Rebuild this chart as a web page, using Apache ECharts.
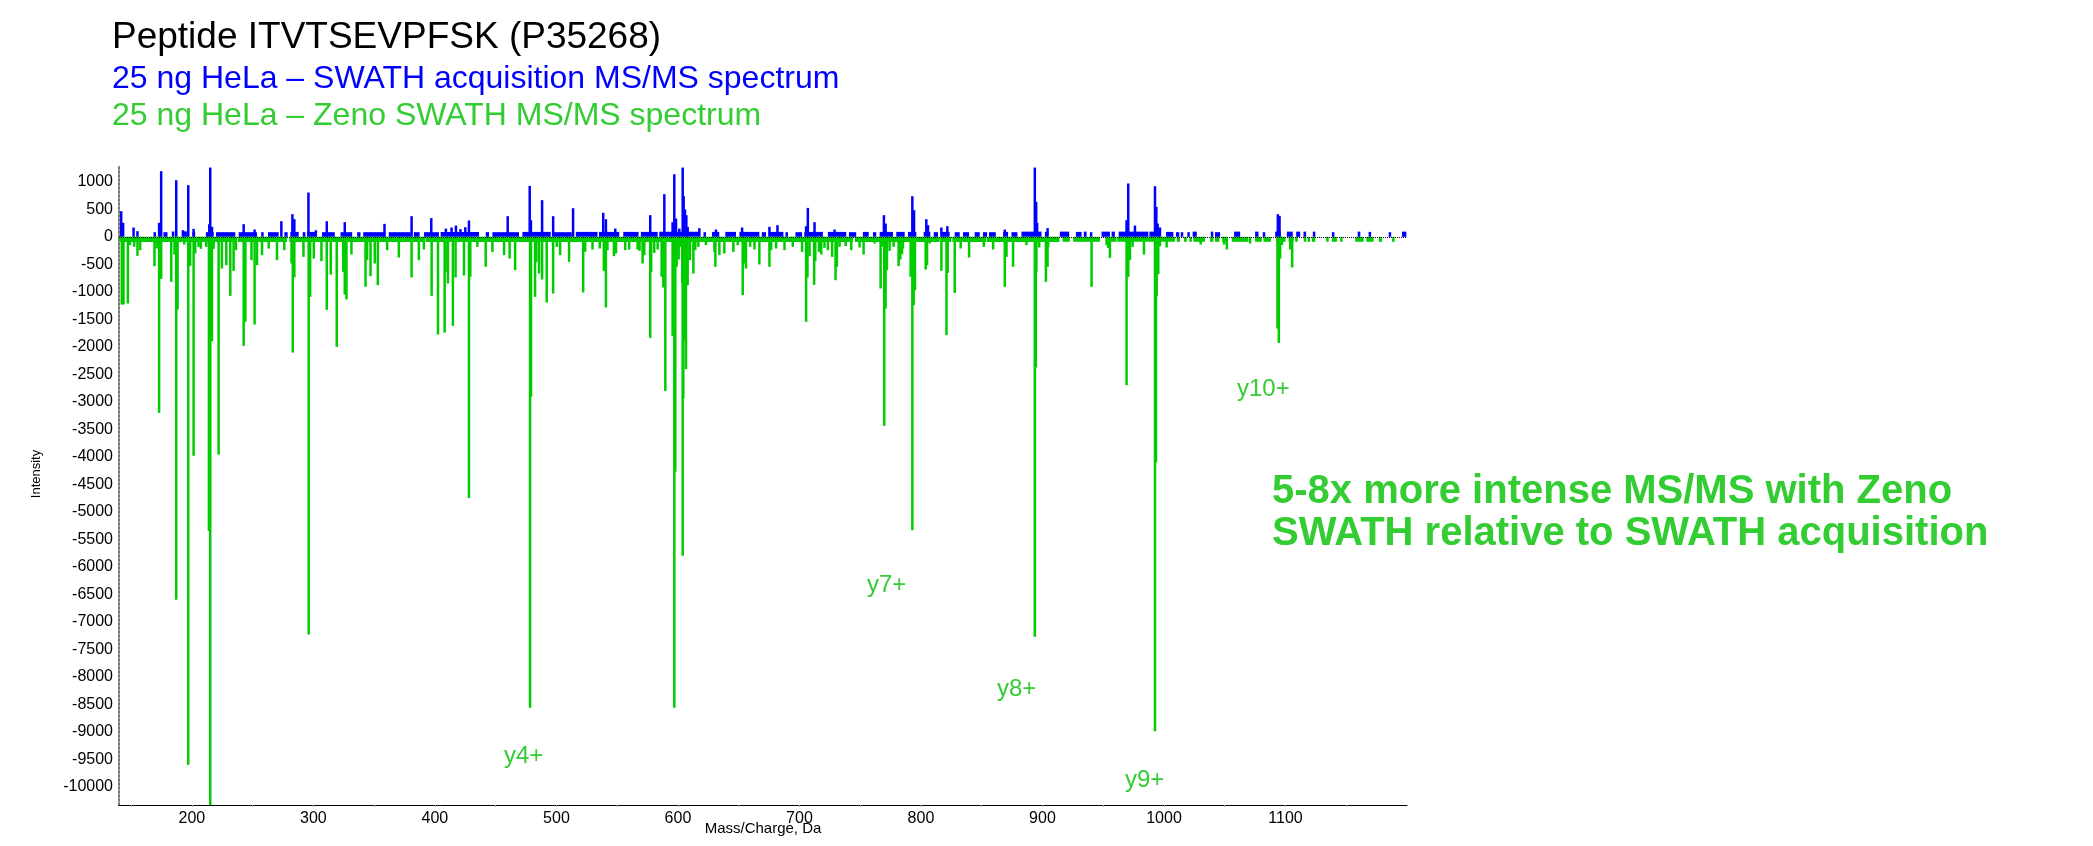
<!DOCTYPE html>
<html>

<head>
    <meta charset="utf-8">
    <title>Peptide ITVTSEVPFSK</title>
    <script src="https://cdn.jsdelivr.net/npm/echarts@6/dist/echarts.min.js"></script>
    <style>
        html, body { margin: 0; padding: 0; background: #fff; }
    </style>
</head>

<body>
    <main id="main" style="width: 2093px; height: 846px;"></main>

    <script>
        // tick values of both axes
        var X_LABELS = [200, 300, 400, 500, 600, 700, 800, 900, 1000, 1100];
        var X_TICKS = [150, 200, 250, 300, 350, 400, 450, 500, 550, 600, 650, 700, 750, 800, 850, 900, 950, 1000, 1050, 1100, 1150];
        var Y_LABELS = [-10000, -9500, -9000, -8500, -8000, -7500, -7000, -6500, -6000, -5500, -5000, -4500, -4000,
            -3500, -3000, -2500, -2000, -1500, -1000, -500, 0, 500, 1000];

        // SWATH acquisition spectrum: [m/z, intensity]
        var swathPeaks = [
            [141.8, 467], [143.4, 255], [152, 170], [155.2, 103], [173, 255], [174.7, 1194], [187.1, 1030], [192.6, 121],
            [197, 940], [201.4, 145], [214.3, 230], [215.1, 1260], [216.5, 182], [242.6, 230], [251.6, 133], [273.6, 285],
            [282.7, 412], [284.3, 321], [295.9, 806], [302, 120], [311, 285], [325.8, 267], [358.5, 236], [380.8, 376],
            [397, 340], [409, 150], [413.7, 170], [417.3, 206], [421, 140], [425, 175], [428, 297], [459.9, 376],
            [478, 927], [479, 303], [488.2, 667], [497.3, 376], [513.7, 521],
            [538.5, 436], [540.7, 321], [548.4, 150], [577.2, 394], [588.8, 776], [595.6, 267], [597, 1139], [598.4, 333],
            [601.1, 150], [603.9, 1260], [604.7, 739], [605.8, 497], [606.9, 394], [608, 182], [617.6, 158], [631.3, 133],
            [652.8, 170], [675.3, 182], [681.9, 212], [705.5, 194], [706.9, 527], [712.4, 267], [728.9, 133], [769.5, 394],
            [770.9, 242], [792.9, 739], [794.3, 485], [804.4, 321], [805.8, 212], [816.8, 170], [821.7, 194], [869, 133],
            [893.7, 1260], [894.8, 636], [895.6, 255], [904.2, 158],
            [969.2, 303], [970.6, 970], [976.1, 206], [992.6, 921], [993.7, 545], [994.8, 242], [996.7, 170],
            [1093.7, 412], [1095.1, 382]
        ];
        // SWATH low-level signal: [m/z from, m/z to, intensity]
        var swathNoise = [
            [168.4, 170.3, 85], [176.6, 179.9, 85], [183.5, 185.2, 97], [191.8, 195.9, 100], [200.5, 202.7, 90],
            [211.5, 217.9, 85], [219.8, 235.7, 85], [238.5, 253.6, 85], [257, 258.5, 85], [262.6, 271.4, 85],
            [276.1, 278.8, 85], [281, 287.9, 90], [291.2, 293.4, 85], [294.8, 301.6, 90], [307.1, 317.6, 85],
            [322.3, 331.9, 85], [336, 338.7, 85], [341, 359.3, 85], [362, 380, 85], [382.7, 387.4, 85],
            [391, 403.3, 85], [404.7, 436.3, 90], [441.8, 444.5, 85], [447.3, 469.2, 85], [472, 495.3, 90],
            [497.5, 512.6, 85], [516, 533.8, 90], [535, 551.7, 90], [555, 567.6, 90], [569.5, 583.3, 90],
            [584.6, 617.6, 95], [621, 622.5, 85], [628, 634, 90], [639, 647.8, 90], [650.6, 667, 90],
            [669, 672.5, 85], [674.8, 686.8, 90], [688.5, 690.4, 85], [696.7, 702.2, 85], [704, 719.3, 90],
            [723.4, 738.5, 90], [740.7, 746.7, 85], [752.2, 757, 90], [760.5, 763.2, 85], [766, 777, 90],
            [779.7, 786.6, 90], [789.3, 796.2, 90], [802.2, 807.7, 90], [810.5, 814, 85], [816.8, 823.6, 90],
            [827.8, 831.9, 85], [834.6, 839.6, 85], [844.2, 848.4, 85], [851, 854.4, 85], [856, 861.6, 85],
            [867.6, 871.7, 90], [874.5, 879.4, 85], [882.7, 899.2, 95], [902, 904.7, 90], [914.3, 922, 95],
            [927.5, 932.2, 90], [934, 936.3, 95], [939, 940.4, 85], [948.6, 955.5, 95], [956.9, 959.6, 95],
            [962.7, 987.1, 95], [988, 996.7, 95], [1001.7, 1007.7, 90], [1009.9, 1012.6, 85], [1013.8, 1015.4, 85],
            [1019.2, 1020.9, 85], [1023.6, 1027, 95], [1038.5, 1040.1, 95], [1042, 1046.2, 85], [1057.7, 1062.7, 95],
            [1075, 1077.8, 95], [1081.3, 1083, 85], [1091.5, 1096.2, 95], [1101.1, 1106, 95], [1108.8, 1112.1, 95],
            [1114.8, 1117, 95], [1122.5, 1124.5, 95], [1138.2, 1140.1, 85], [1159.4, 1161.6, 95], [1168.4, 1169.8, 90],
            [1184.9, 1186.8, 85], [1195.9, 1199.5, 95]
        ];

        // Zeno SWATH spectrum, drawn downwards: [m/z, intensity]
        var zenoPeaks = [
            [142.3, -1230], [143.7, -1230], [147.3, -1212], [149, -150], [152.5, -180], [155.2, -345], [157.4, -242],
            [169.2, -533], [171, -212], [173, -3200], [174.7, -764], [183, -818], [185.7, -321], [187.1, -6600],
            [188.2, -1321], [193.7, -140], [197, -9600], [198.6, -527], [201.4, -3980], [202.7, -303], [205.5, -182],
            [207.4, -218], [211.8, -182], [214, -5350], [215.1, -10330], [216.5, -1897], [217.9, -218], [222, -3960],
            [224.7, -576], [228.3, -515], [231.6, -1073], [234.3, -618], [236.3, -242], [242.6, -1982], [244, -1545],
            [249, -424], [251.6, -1594], [253.6, -515], [257.7, -333], [263.2, -212], [270, -424], [276, -242],
            [282, -485], [283, -2103], [284.3, -739], [291.8, -364], [296.1, -7230], [297.3, -1091], [300.3, -394],
            [306.6, -442], [311, -1327], [314.3, -685], [319.2, -2000], [324.5, -636], [325.8, -1048], [327.2, -1139],
            [331.3, -321], [342.9, -909], [344.2, -424], [347, -715], [350.5, -485], [353, -879], [360.7, -242],
            [370.3, -376], [380.8, -739], [386.8, -424], [390.9, -230], [397.3, -1073], [402.5, -1776], [408, -1739],
            [408.8, -636], [410.7, -848], [414.8, -1618], [417, -739], [423.9, -703], [428, -4750], [429.1, -727],
            [434.9, -182], [441.8, -545], [447.3, -273], [456.9, -333], [461.5, -394], [466, -606], [478.3, -8560],
            [479.1, -2909], [482.4, -1091], [483.5, -455], [485.7, -667], [488.2, -776], [492, -1194], [497.3, -1030],
            [500.3, -182], [503, -333], [510.4, -455], [522, -1012], [523.6, -273], [529.7, -230], [535.7, -212],
            [539, -618], [540.7, -1285], [542, -242], [547.3, -351], [549, -303], [556.6, -242], [559.9, -230],
            [566.8, -230], [568.4, -255], [570.9, -485], [572.3, -333], [577.2, -1836], [578, -636], [580.5, -291],
            [583.3, -230], [586.6, -727], [588, -921], [589.6, -2800], [595.6, -1800], [597, -8560], [597.8, -4270],
            [598.9, -545], [600.6, -412], [602.5, -182], [603.6, -836], [603.9, -5800], [604.4, -2939], [605.5, -1890],
            [606.6, -2406], [608, -879], [609.9, -424], [612.7, -667], [614.3, -242], [616.8, -182], [623, -151],
            [630, -273], [630.8, -545], [634.1, -333], [638.2, -303], [645.6, -273], [649.2, -151], [653.3, -1060],
            [654.7, -485], [656, -576], [659.4, -182], [663, -230], [667, -503], [675.3, -545], [676.7, -242],
            [680.8, -212], [687.7, -242], [694.5, -182], [702.2, -273], [705.5, -1545], [706.6, -739], [708.3, -351],
            [712.1, -873], [713, -442], [716, -273], [717.9, -321], [720.6, -200], [723.4, -242], [726.9, -364],
            [729.7, -788], [730.8, -545], [733, -182], [738, -170], [742.6, -242], [749.5, -194], [752.8, -321],
            [761.8, -121], [766.8, -939], [768.2, -182], [769.8, -3436], [770.9, -1303], [772, -606], [774.2, -255],
            [777.5, -182], [781.6, -533], [783, -412], [784.4, -315], [785.2, -212], [791.5, -727], [792.9, -5333],
            [794, -1242], [795.1, -970], [803.9, -594], [805, -515], [807.2, -121], [816.8, -618], [821, -1788],
            [822, -655], [827.8, -1018], [832.7, -212], [839.6, -376], [851.7, -182], [859.4, -230], [869, -909],
            [870.4, -364], [875.8, -545], [886.8, -151], [893.7, -7270], [894.5, -2375], [895, -636], [897.3, -194],
            [902.8, -818], [904.2, -545], [904.7, -182],
            [940.4, -909], [952.8, -151], [954.1, -200], [955.5, -382], [969.2, -2697], [970.6, -727], [972, -424],
            [974.2, -182], [983.5, -321], [992.6, -8990], [993.4, -4100], [994, -1079], [995.3, -679], [996.7, -170],
            [1002.2, -194], [1030.2, -140], [1049.5, -140], [1051.7, -230], [1070.9, -121], [1093.4, -1667],
            [1094.5, -1927], [1095.6, -394], [1097, -151], [1103.9, -230], [1105.5, -558]
        ];
        // Zeno SWATH low-level signal: [m/z from, m/z to, intensity]
        var zenoNoise = [
            [139.6, 235.7, -95], [237.9, 278.3, -95], [280.2, 391, -95], [392.3, 744, -95], [745.6, 815.4, -95],
            [816.8, 825, -95], [825.8, 853.9, -95], [854.4, 914, -95], [916.5, 922.5, -90], [925.3, 947.3, -90],
            [952.2, 961, -90], [961.6, 1009, -90], [1010.5, 1013.2, -90], [1016.5, 1018.7, -90], [1020.9, 1022.8, -90],
            [1024.2, 1033.8, -90], [1038, 1040.7, -90], [1042, 1045.6, -90], [1047.8, 1051.7, -90], [1055.8, 1069.5, -90],
            [1075, 1080.5, -90], [1081.9, 1088, -90], [1092.3, 1100, -90], [1102.5, 1106.6, -90], [1108, 1110, -90],
            [1115, 1117, -90], [1118.2, 1120.3, -90], [1121.7, 1124.5, -90], [1133.5, 1134.9, -90], [1138.2, 1142.3, -90],
            [1145, 1146.4, -90], [1157.4, 1164.3, -90], [1166.5, 1172.5, -90], [1176.7, 1179.4, -90], [1187.7, 1189.6, -90]
        ];

        var BLUE = '#0000ff';
        var GREEN = '#00cc00';
        var TEXT_GREEN = '#33cc33';
        var FONT = '"Liberation Sans", Arial, sans-serif';
        var PEAK_WIDTH = 2.5;

        var chartDom = document.getElementById('main');
        var myChart = echarts.init(chartDom);

        function clipRect(params, rect) {
            return echarts.graphic.clipRectByRect(rect, {
                x: params.coordSys.x,
                y: params.coordSys.y,
                width: params.coordSys.width,
                height: params.coordSys.height
            });
        }

        function renderPeak(params, api) {
            var base = api.coord([api.value(0), 0]);
            var top = api.coord([api.value(0), api.value(1)]);
            var rect = clipRect(params, {
                x: base[0] - PEAK_WIDTH / 2,
                y: Math.min(base[1], top[1]),
                width: PEAK_WIDTH,
                height: Math.abs(top[1] - base[1])
            });
            return {
                type: 'rect',
                ignore: !rect,
                shape: rect,
                style: { fill: api.visual('color') }
            };
        }

        function renderSegment(params, api) {
            var a = api.coord([api.value(0), 0]);
            var b = api.coord([api.value(1), api.value(2)]);
            var rect = clipRect(params, {
                x: a[0],
                y: Math.min(a[1], b[1]),
                width: Math.max(b[0] - a[0], PEAK_WIDTH),
                height: Math.abs(b[1] - a[1])
            });
            return {
                type: 'rect',
                ignore: !rect,
                shape: rect,
                style: { fill: api.visual('color') }
            };
        }

        function textEl(text, x, y, size, color, weight) {
            return {
                type: 'text',
                style: {
                    x: x,
                    y: y,
                    text: text,
                    fill: color,
                    font: (weight || 'normal') + ' ' + size + 'px ' + FONT,
                    textAlign: 'left',
                    textVerticalAlign: 'middle'
                }
            };
        }

        function plainNumber(v) {
            return String(v);
        }

        var option = {
            animation: false,
            backgroundColor: '#fff',
            grid: {
                left: 119,
                right: 686,
                top: 167,
                bottom: 41
            },
            xAxis: {
                type: 'value',
                min: 140,
                max: 1200,
                splitLine: { show: false },
                axisLine: { onZero: false, lineStyle: { color: '#000', width: 1 } },
                axisTick: { customValues: X_TICKS, length: 2, lineStyle: { color: '#aaa' } },
                axisLabel: {
                    customValues: X_LABELS,
                    formatter: plainNumber,
                    color: '#000',
                    fontSize: 16,
                    fontFamily: FONT,
                    margin: 6
                }
            },
            yAxis: {
                type: 'value',
                min: -10330,
                max: 1270,
                splitLine: { show: false },
                axisLine: { show: true, lineStyle: { color: '#777', width: 2, type: 'dotted' } },
                axisTick: { show: false },
                axisLabel: {
                    customValues: Y_LABELS,
                    formatter: plainNumber,
                    color: '#000',
                    fontSize: 16,
                    fontFamily: FONT,
                    margin: 6
                }
            },
            series: [
                {
                    type: 'custom',
                    name: 'zero',
                    data: [],
                    markLine: {
                        silent: true,
                        symbol: 'none',
                        label: { show: false },
                        lineStyle: { color: '#000', type: 'dotted', width: 1 },
                        data: [{ yAxis: 0 }]
                    },
                    renderItem: renderPeak
                },
                {
                    type: 'custom',
                    name: 'SWATH noise',
                    renderItem: renderSegment,
                    encode: { x: [0, 1], y: 2 },
                    itemStyle: { color: BLUE },
                    data: swathNoise
                },
                {
                    type: 'custom',
                    name: 'SWATH',
                    renderItem: renderPeak,
                    encode: { x: 0, y: 1 },
                    itemStyle: { color: BLUE },
                    data: swathPeaks
                },
                {
                    type: 'custom',
                    name: 'Zeno noise',
                    renderItem: renderSegment,
                    encode: { x: [0, 1], y: 2 },
                    itemStyle: { color: GREEN },
                    data: zenoNoise
                },
                {
                    type: 'custom',
                    name: 'Zeno SWATH',
                    renderItem: renderPeak,
                    encode: { x: 0, y: 1 },
                    itemStyle: { color: GREEN },
                    data: zenoPeaks
                }
            ],
            graphic: [
                textEl('Peptide ITVTSEVPFSK (P35268)', 112, 37.5, 37, '#000'),
                textEl('25 ng HeLa \u2013 SWATH acquisition MS/MS spectrum', 112, 79, 32, BLUE),
                textEl('25 ng HeLa \u2013 Zeno SWATH MS/MS spectrum', 112, 116.5, 32, TEXT_GREEN),
                textEl('y4+', 504, 756, 24, TEXT_GREEN),
                textEl('y7+', 867, 585, 24, TEXT_GREEN),
                textEl('y8+', 997, 689, 24, TEXT_GREEN),
                textEl('y9+', 1125, 780, 24, TEXT_GREEN),
                textEl('y10+', 1237, 389, 24, TEXT_GREEN),
                textEl('5-8x more intense MS/MS with Zeno', 1272, 492, 40, TEXT_GREEN, 'bold'),
                textEl('SWATH relative to SWATH acquisition', 1272, 534, 40, TEXT_GREEN, 'bold'),
                {
                    type: 'text',
                    x: 36,
                    y: 474,
                    rotation: Math.PI / 2,
                    style: {
                        text: 'Intensity',
                        fill: '#000',
                        font: '13px ' + FONT,
                        textAlign: 'center',
                        textVerticalAlign: 'middle'
                    }
                },
                {
                    type: 'text',
                    style: {
                        x: 763,
                        y: 829,
                        text: 'Mass/Charge, Da',
                        fill: '#000',
                        font: '15px ' + FONT,
                        textAlign: 'center',
                        textVerticalAlign: 'middle'
                    }
                }
            ]
        };

        myChart.setOption(option);
    </script>
</body>

</html>
